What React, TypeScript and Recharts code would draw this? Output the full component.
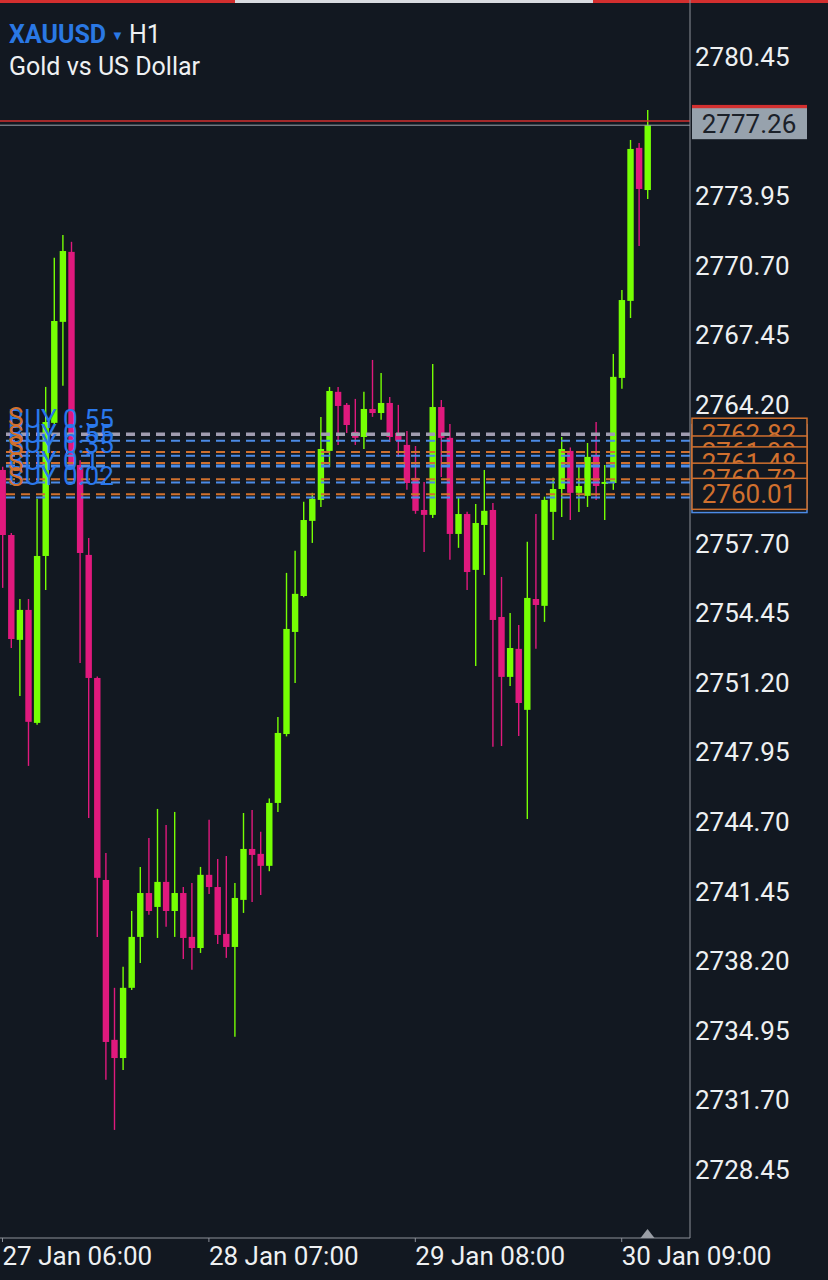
import React from "react";
import { ComposedChart, Bar, XAxis, YAxis, ReferenceLine, ReferenceDot } from "recharts";

// H1 candles, XAUUSD, 27 Jan 06:00 .. 30 Jan 12:00
const opens = [
  2761.15, 2758.11, 2753.21, 2754.61, 2749.33, 2757.13, 2763.35, 2768.07, 2771.34, 2761.38,
  2757.18, 2751.43, 2741.99, 2734.52, 2733.67, 2736.95, 2739.33, 2741.38, 2740.73, 2741.9,
  2740.54, 2741.38, 2739.33, 2738.81, 2742.23, 2741.66, 2739.47, 2738.86, 2741.06, 2743.44,
  2743.21, 2742.65, 2745.59, 2748.81, 2753.58, 2755.26, 2758.77, 2759.75, 2762.04, 2764.8,
  2764.19, 2762.93, 2762.69, 2764.0, 2763.81, 2764.28, 2762.88, 2762.32, 2760.78, 2759.28,
  2759.05, 2764.09, 2762.65, 2758.16, 2759.09, 2756.48, 2758.58, 2759.28, 2754.28, 2751.48,
  2752.79, 2749.94, 2755.12, 2754.8, 2759.19, 2760.26, 2762.04, 2760.08, 2759.94, 2761.8,
  2760.5, 2760.54, 2765.45, 2769.05, 2776.2, 2774.23,
];
const highs = [
  2761.3, 2758.2, 2755.12, 2755.12, 2759.8, 2765.03, 2771.06, 2772.13, 2771.81, 2761.6,
  2757.97, 2751.5, 2743.25, 2736.95, 2737.93, 2740.54, 2742.6, 2743.95, 2745.31, 2744.56,
  2745.17, 2741.66, 2741.85, 2742.6, 2744.8, 2742.97, 2743.11, 2741.85, 2745.12, 2745.26,
  2744.24, 2745.8, 2749.61, 2756.34, 2757.37, 2759.66, 2760.08, 2763.63, 2765.03, 2765.03,
  2764.28, 2764.47, 2764.8, 2766.29, 2765.68, 2764.56, 2764.19, 2762.97, 2762.27, 2760.59,
  2766.1, 2764.42, 2763.3, 2759.84, 2759.2, 2759.56, 2761.15, 2759.61, 2756.15, 2754.47,
  2753.91, 2757.79, 2759.09, 2759.9, 2760.78, 2762.69, 2762.2, 2761.34, 2762.41, 2763.39,
  2761.38, 2766.57, 2769.56, 2776.57, 2776.43, 2777.97,
];
const lows = [
  2755.64, 2752.83, 2750.59, 2747.32, 2749.24, 2755.54, 2763.3, 2765.08, 2761.2, 2752.13,
  2744.89, 2739.33, 2732.65, 2730.31, 2733.11, 2736.85, 2738.11, 2740.36, 2739.28, 2739.8,
  2739.33, 2738.3, 2737.79, 2738.58, 2741.34, 2739.0, 2738.35, 2734.66, 2740.45, 2740.96,
  2741.29, 2742.4, 2745.17, 2748.7, 2751.2, 2755.2, 2757.74, 2759.42, 2761.29, 2762.32,
  2762.88, 2762.32, 2762.13, 2763.63, 2763.49, 2762.46, 2761.76, 2760.22, 2759.1, 2757.32,
  2758.9, 2760.82, 2756.95, 2757.51, 2755.54, 2751.99, 2756.24, 2748.21, 2748.25, 2751.06,
  2748.72, 2744.84, 2752.79, 2754.05, 2757.88, 2758.95, 2758.81, 2759.19, 2759.42, 2759.75,
  2758.81, 2760.22, 2764.94, 2768.25, 2771.62, 2773.81,
];
const closes = [
  2758.11, 2753.25, 2754.61, 2749.38, 2757.13, 2763.39, 2768.11, 2771.38, 2761.38, 2757.27,
  2751.43, 2742.09, 2734.42, 2733.67, 2736.95, 2739.33, 2741.38, 2740.54, 2741.9, 2740.54,
  2741.38, 2739.28, 2738.81, 2742.23, 2741.66, 2739.42, 2738.86, 2741.15, 2743.44, 2743.16,
  2742.65, 2745.59, 2748.86, 2753.72, 2755.36, 2758.81, 2759.8, 2762.13, 2764.84, 2764.14,
  2763.25, 2762.65, 2764.0, 2763.81, 2764.28, 2762.69, 2762.51, 2760.54, 2759.24, 2759.05,
  2764.09, 2762.65, 2758.16, 2759.09, 2756.38, 2758.67, 2759.24, 2754.14, 2751.48, 2752.83,
  2750.26, 2755.17, 2754.84, 2759.75, 2760.26, 2762.13, 2760.08, 2760.4, 2761.76, 2760.4,
  2760.59, 2765.5, 2769.09, 2776.15, 2774.28, 2777.26,
];

const xTicks = [0, 24, 48, 72];
const xTickLabels = ["27 Jan 06:00", "28 Jan 07:00", "29 Jan 08:00", "30 Jan 09:00"];
const priceTicks = [
  2728.45, 2731.7, 2734.95, 2738.2, 2741.45, 2744.7, 2747.95, 2751.2, 2754.45, 2757.7,
  2764.2, 2767.45, 2770.7, 2773.95, 2780.45,
];

const bid = 2777.26;
const ask = 2777.46;
const orderPrices = [2762.82, 2761.99, 2761.48, 2760.72, 2760.01];
const positionPrices = [2762.52, 2761.81, 2761.34, 2760.56, 2759.86];
const positionLabels = ["BUY 0.55", "BUY 0.55", "BUY 0.35", "BUY 0.1", "BUY 0.02"];

const BG = "#121821";
const GREEN = "#76ff03";
const PINK = "#e0197d";
const AXIS = "#8c9099";
const TXT = "#eef0f2";
const BLUE_TXT = "#2a78ec";
const BLUE = "#4c8be6";
const ORANGE = "#d0702e";
const RED = "#d32f2f";
const FONT = "Roboto, 'Noto Sans', sans-serif";
const FS = 26;

const data = opens.map((o, i) => ({
  i,
  open: o,
  high: highs[i],
  low: lows[i],
  close: closes[i],
  range: [lows[i], highs[i]],
}));

function Candle(props: any) {
  const { x, y, width, height, payload } = props;
  if (x == null || payload == null) return null;
  const top = Math.min(y, y + height);
  const bot = Math.max(y, y + height);
  const { open, close, high, low } = payload;
  const py = (v: number) => (high === low ? top : top + ((high - v) / (high - low)) * (bot - top));
  const cx = x + width / 2;
  const color = close >= open ? GREEN : PINK;
  const bTop = py(Math.max(open, close));
  const bBot = py(Math.min(open, close));
  return (
    <g>
      <line x1={cx} x2={cx} y1={top} y2={bot} stroke={color} strokeWidth={1.4} />
      <rect x={cx - 3.2} y={bTop} width={6.4} height={Math.max(bBot - bTop, 2)} fill={color} />
    </g>
  );
}

function XTick(props: any) {
  const { x, y, payload } = props;
  const k = xTicks.indexOf(payload.value);
  return (
    <text x={x} y={y + 21} fill={TXT} fontSize={FS} fontFamily={FONT} textAnchor="start">
      {xTickLabels[k]}
    </text>
  );
}

function YTick(props: any) {
  const { y, payload } = props;
  return (
    <text x={695} y={y + 9} fill={TXT} fontSize={FS} fontFamily={FONT} textAnchor="start">
      {payload.value.toFixed(2)}
    </text>
  );
}

// price tag drawn on the right axis
const tag = (price: number, fill: string, stroke: string, color: string, dy: number) => (p: any) => {
  const ly = p.viewBox.y;
  return (
    <g>
      <rect x={692} y={ly - dy} width={115} height={31} fill={fill} stroke={stroke} strokeWidth={stroke === "none" ? 0 : 1.5} />
      <text x={749} y={ly - dy + 25} fill={color} fontSize={FS} fontFamily={FONT} textAnchor="middle">
        {price.toFixed(2)}
      </text>
    </g>
  );
};

const leftText = (txt: string, color: string, off: number) => (p: any) => (
  <text x={8} y={p.viewBox.y - off} fill={color} fontSize={FS} fontFamily={FONT}>
    {txt}
  </text>
);

export default function App() {
  return (
    <div style={{ position: "absolute", left: 0, top: 0, width: 828, height: 1280, background: BG, overflow: "hidden" }}>
      <div style={{ position: "absolute", left: 0, top: 0, width: 235, height: 3, background: RED }} />
      <div style={{ position: "absolute", left: 235, top: 0, width: 358, height: 3, background: "#d8dbe0" }} />
      <div style={{ position: "absolute", left: 593, top: 0, width: 235, height: 3, background: RED }} />
      <ComposedChart width={828} height={1280} data={data} margin={{ top: 0, right: 0, bottom: 0, left: 0 }}>
        <XAxis
          dataKey="i"
          type="number"
          domain={[-0.29, 79.94]}
          ticks={xTicks}
          allowDataOverflow
          height={42}
          stroke={AXIS}
          tickLine={{ stroke: AXIS }}
          tickSize={4}
          interval={0}
          tick={<XTick />}
        />
        <YAxis
          orientation="right"
          type="number"
          domain={[2725.26, 2783.11]}
          ticks={priceTicks}
          allowDataOverflow
          width={138}
          stroke={AXIS}
          tickLine={false}
          interval={0}
          tick={<YTick />}
        />
        {positionPrices.map((p, k) => (
          <ReferenceLine key={"b" + k} y={p} stroke={BLUE} strokeWidth={k === 2 ? 3 : 2} strokeDasharray="9 6" label={tag(p, BG, BLUE, BLUE, 16)} />
        ))}
        <ReferenceLine y={orderPrices[0]} stroke="#a09cb0" strokeWidth={3.5} strokeDasharray="9 6" />
        {orderPrices.map((p, k) => (
          <ReferenceLine key={"o" + k} y={p} stroke={k === 0 ? "none" : ORANGE} strokeWidth={2} strokeDasharray="9 6" label={tag(p, BG, ORANGE, ORANGE, 16)} />
        ))}
        <Bar dataKey="range" barSize={7} shape={<Candle />} isAnimationActive={false} />
        {positionPrices.map((p, k) => (
          <ReferenceLine key={"bl" + k} y={p} stroke="none" label={leftText(positionLabels[k], BLUE_TXT, 13)} />
        ))}
        {orderPrices.map((p, k) => (
          <ReferenceLine key={"ol" + k} y={p} stroke="none" label={leftText("S", ORANGE, 8)} />
        ))}
        <ReferenceLine y={ask} stroke={RED} strokeWidth={1.5} label={tag(ask, RED, "none", RED, 16)} />
        <ReferenceLine y={bid} stroke="#9aa2ab" strokeWidth={1} label={tag(bid, "#97a2ad", "none", "#1b2129", 17)} />
        <ReferenceDot
          x={75}
          y={2725.26}
          ifOverflow="visible"
          shape={(p: any) => (
            <path d={`M${p.cx - 7},${p.cy} L${p.cx},${p.cy - 9} L${p.cx + 7},${p.cy} Z`} fill="#9a9ea6" />
          )}
        />
      </ComposedChart>
      <div style={{ position: "absolute", left: 9, top: 20, fontFamily: FONT, fontSize: 25, lineHeight: "30px", color: TXT }}>
        <span style={{ color: "#2a78e4", fontWeight: 700 }}>XAUUSD</span>
        <span style={{ color: "#2a78e4", fontSize: 13, margin: "0 5px 0 5px", verticalAlign: "3px" }}>▼</span>
        <span>H1</span>
      </div>
      <div style={{ position: "absolute", left: 9, top: 52, fontFamily: FONT, fontSize: 25, lineHeight: "30px", color: TXT }}>
        Gold vs US Dollar
      </div>
    </div>
  );
}
